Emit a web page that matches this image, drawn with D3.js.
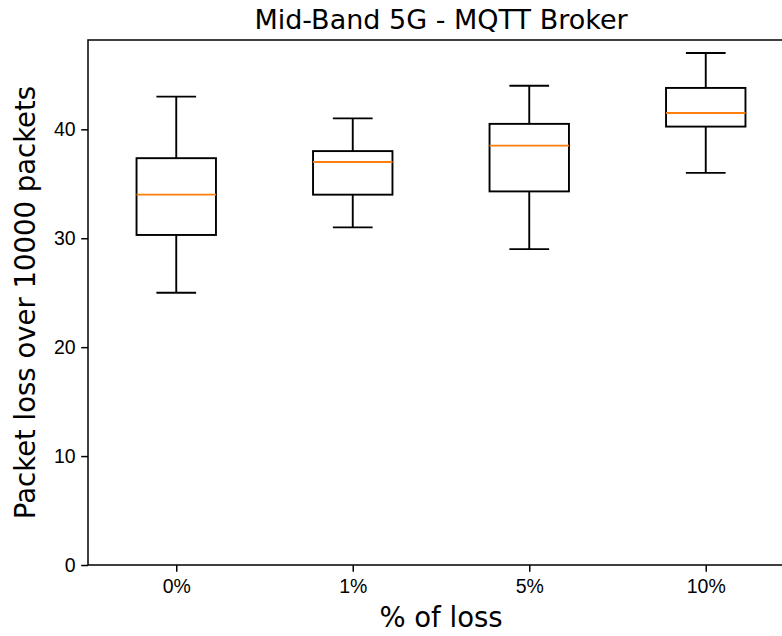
<!DOCTYPE html>
<html lang="en">
<head>
<meta charset="UTF-8">
<title>Mid-Band 5G - MQTT Broker</title>
<script src="https://d3js.org/d3.v7.min.js"></script>
<style>
    body { margin: 0; background: #fff; }
    svg { display: block; font-family: "DejaVu Sans", sans-serif; }
    .tick text { font-size: 19.5px; fill: #000; }
</style>
</head>
<body>
<svg width="782" height="636"></svg>
<script>
    // box statistics
    const categories = ["0%", "1%", "5%", "10%"];
    const whiskerLow = [25, 31, 29, 36];
    const q1 = [30.3, 34, 34.3, 40.25];
    const median = [34, 37, 38.5, 41.5];
    const q3 = [37.35, 38, 40.5, 43.8];
    const whiskerHigh = [43, 41, 44, 47];
    const yTicks = [0, 10, 20, 30, 40];

    const width = 782, height = 636;
    const margin = { top: 40, right: -12, bottom: 71, left: 88 };

    const svg = d3.select("svg");

    const x = d3.scalePoint()
        .domain(categories)
        .range([margin.left, width - margin.right])
        .padding(0.5);

    const y = d3.scaleLinear()
        .domain([0, 48.2])
        .range([height - margin.bottom, margin.top]);

    const boxW = x.step() * 0.45;
    const capW = boxW / 2;

    const data = categories.map((c, i) => ({
        cat: c, lo: whiskerLow[i], q1: q1[i], med: median[i], q3: q3[i], hi: whiskerHigh[i]
    }));

    // axes
    const xAxis = svg.append("g")
        .attr("transform", `translate(0,${height - margin.bottom})`)
        .call(d3.axisBottom(x).tickSize(6.8).tickPadding(7.5));
    const yAxis = svg.append("g")
        .attr("transform", `translate(${margin.left},0)`)
        .call(d3.axisLeft(y).tickValues(yTicks).tickSize(6.8).tickPadding(5.5));
    [xAxis, yAxis].forEach(g => {
        g.select(".domain").remove();
        g.selectAll(".tick line").attr("stroke", "#000").attr("stroke-width", 1.5);
    });

    // frame
    svg.append("rect")
        .attr("x", margin.left)
        .attr("y", margin.top)
        .attr("width", width - margin.right - margin.left)
        .attr("height", height - margin.bottom - margin.top)
        .attr("fill", "none")
        .attr("stroke", "#000")
        .attr("stroke-width", 1.5);

    const boxes = svg.append("g").selectAll("g")
        .data(data)
        .join("g")
        .attr("stroke-width", 1.9)
        .attr("fill", "none");

    // whiskers
    boxes.append("line")
        .attr("x1", d => x(d.cat)).attr("x2", d => x(d.cat))
        .attr("y1", d => y(d.lo)).attr("y2", d => y(d.q1))
        .attr("stroke", "#000");
    boxes.append("line")
        .attr("x1", d => x(d.cat)).attr("x2", d => x(d.cat))
        .attr("y1", d => y(d.q3)).attr("y2", d => y(d.hi))
        .attr("stroke", "#000");
    // caps
    boxes.append("line")
        .attr("x1", d => x(d.cat) - capW / 2).attr("x2", d => x(d.cat) + capW / 2)
        .attr("y1", d => y(d.lo)).attr("y2", d => y(d.lo))
        .attr("stroke", "#000");
    boxes.append("line")
        .attr("x1", d => x(d.cat) - capW / 2).attr("x2", d => x(d.cat) + capW / 2)
        .attr("y1", d => y(d.hi)).attr("y2", d => y(d.hi))
        .attr("stroke", "#000");
    // box
    boxes.append("rect")
        .attr("x", d => x(d.cat) - boxW / 2)
        .attr("width", boxW)
        .attr("y", d => y(d.q3))
        .attr("height", d => y(d.q1) - y(d.q3))
        .attr("stroke", "#000");
    // median
    boxes.append("line")
        .attr("x1", d => x(d.cat) - boxW / 2).attr("x2", d => x(d.cat) + boxW / 2)
        .attr("y1", d => y(d.med)).attr("y2", d => y(d.med))
        .attr("stroke", "#ff7f0e");

    // title and labels
    svg.append("text")
        .attr("x", (margin.left + width - margin.right) / 2)
        .attr("y", 28.5)
        .attr("text-anchor", "middle")
        .style("font-size", "27px")
        .text("Mid-Band 5G - MQTT Broker");

    svg.append("text")
        .attr("x", (margin.left + width - margin.right) / 2)
        .attr("y", 627)
        .attr("text-anchor", "middle")
        .style("font-size", "27.5px")
        .text("% of loss");

    svg.append("text")
        .attr("transform", `translate(35,${(margin.top + height - margin.bottom) / 2}) rotate(-90)`)
        .attr("text-anchor", "middle")
        .style("font-size", "27.5px")
        .text("Packet loss over 10000 packets");
</script>
</body>
</html>
